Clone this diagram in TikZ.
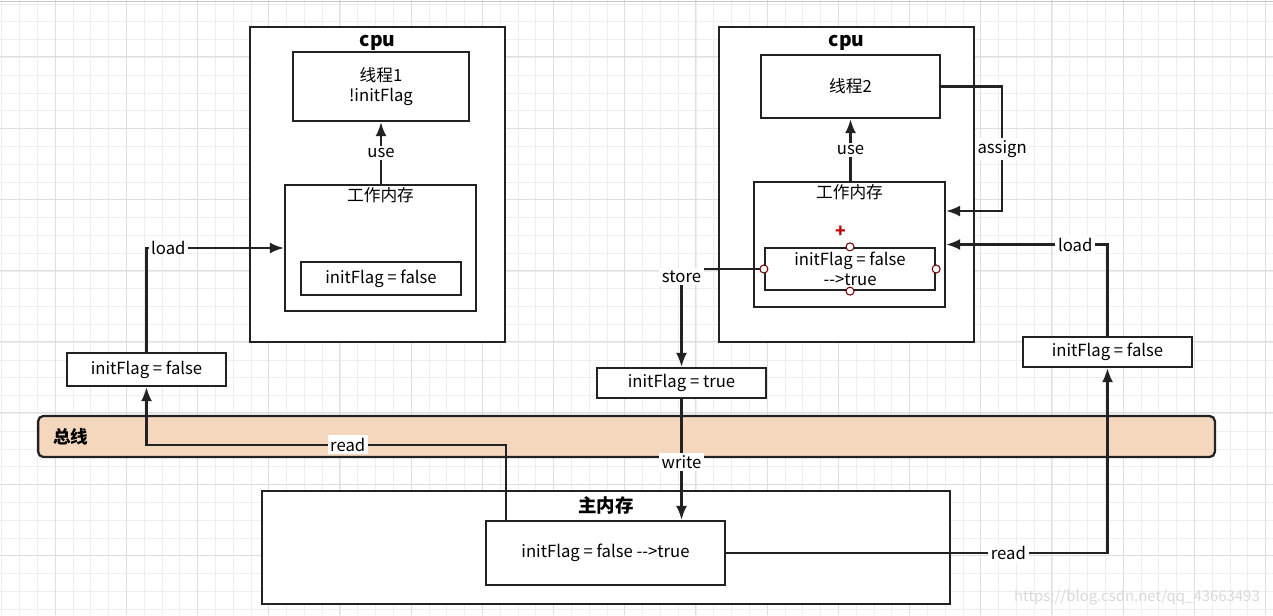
\documentclass[tikz,border=0pt]{standalone}
\usepackage{fontspec}
\setmainfont{Noto Sans CJK SC}
\usepackage{tikz}
\usetikzlibrary{arrows.meta, positioning}
\tikzset{>={Latex[width=2.2mm,length=2.8mm]}}
\definecolor{busfill}{HTML}{F5D7BE}
\definecolor{linecol}{HTML}{222222}
\definecolor{gridminor}{HTML}{EEEEEE}
\definecolor{gridmajor}{HTML}{DEDEDE}

\begin{document}
\begin{tikzpicture}[
    x = 0.02cm, y = -0.02cm,
    font = \fontsize{9.5}{11}\selectfont,
    box/.style = {draw=linecol, line width=1.3pt, inner sep=0pt, fill=white},
    title/.style = {font=\fontsize{11}{13}\selectfont\bfseries, inner sep=1pt},
    lbl/.style = {fill=white, inner sep=1.5pt},
    wire/.style = {draw=linecol, line width=1.3pt},
    handle/.style = {circle, draw=black!55!red, fill=white, line width=0.6pt,
        minimum size=0.16cm, inner sep=0pt}
  ]
  \fill[white] (0,0) rectangle (1273,615);
  \useasboundingbox (0,0) rectangle (1273,615);
  \foreach \gx in {1.7,19.5,...,1273} \draw[gridminor] (\gx,0) -- (\gx,615);
  \foreach \gy in {3.9,21.7,...,615} \draw[gridminor] (0,\gy) -- (1273,\gy);
  \foreach \gx in {55,126.2,...,1273} \draw[gridmajor] (\gx,0) -- (\gx,615);
  \foreach \gy in {56.7,127.9,...,615} \draw[gridmajor] (0,\gy) -- (1273,\gy);
  \draw[gray!45] (0,1.5) -- (1273,1.5);

  \node[box, fill=busfill, rounded corners=3pt, minimum width=23.54cm,
    minimum height=0.82cm] (bus) at (626.5,436.5) {};
  \node[font=\fontsize{10}{12}\selectfont\bfseries, right=0.2cm of bus.west] (busT) {总线};

  \node[box, minimum width=5.1cm, minimum height=6.3cm] (cpuA) at (377.5,184.5) {};
  \node[title, below=0.15cm of cpuA.north] (cpuAT) {cpu};
  \node[box, minimum width=3.52cm, minimum height=1.38cm, align=center] (thA)
    at (381,86.5) {线程1\\!initFlag};
  \node[box, minimum width=3.82cm, minimum height=2.52cm] (wmA) at (380.5,248) {};
  \node[below=0pt of wmA.north, inner sep=2pt] (wmAT) {工作内存};
  \node[box, minimum width=3.2cm, minimum height=0.66cm] (vA) at (381,278.5) {initFlag = false};
  \node[box, minimum width=3.18cm, minimum height=0.66cm] (fA) at (146.5,369.5) {initFlag = false};

  \node[box, minimum width=5.1cm, minimum height=6.3cm] (cpuB) at (846.5,184.5) {};
  \node[title, below=0.15cm of cpuB.north] (cpuBT) {cpu};
  \node[box, minimum width=3.58cm, minimum height=1.26cm] (thB) at (850.5,86.5) {线程2};
  \node[box, minimum width=3.82cm, minimum height=2.5cm] (wmB) at (849.5,244.5) {};
  \node[below=0pt of wmB.north, inner sep=2pt] (wmBT) {工作内存};
  \node[box, minimum width=3.4cm, minimum height=0.84cm, align=center] (vB)
    at (850,269) {initFlag = false\\-{}-{}>true};
  \node[box, minimum width=3.38cm, minimum height=0.6cm] (fB) at (1107.5,352) {initFlag = false};
  \node[box, minimum width=3.38cm, minimum height=0.6cm] (tB) at (681.5,383) {initFlag = true};

  \node[box, minimum width=13.76cm, minimum height=2.26cm] (mem) at (606,547.5) {};
  \node[title, font=\fontsize{10.5}{12}\selectfont\bfseries,
    below=0.1cm of mem.north] (memT) {主内存};
  \node[box, minimum width=4.78cm, minimum height=1.28cm] (mInner)
    at (605.5,553) {initFlag = false -{}-{}>true};

  \draw[wire, ->] (thA.south |- wmA.north) -- node[lbl] {use} (thA.south);
  \draw[wire, ->] (fA.north) |- node[lbl, pos=0.5, anchor=west, xshift=0.5pt] {load} (wmA.west);
  \draw[wire, ->] ([xshift=0.42cm]mInner.north west) -- ++(0,-75)
    -| node[lbl, pos=0.22] {read} (fA.south);

  \draw[wire, ->] (thB.south |- wmB.north) -- node[lbl] {use} (thB.south);
  \draw[wire, ->] (thB.east) -- ++(61,0)
    |- node[lbl, pos=0.25] {assign} ([yshift=0.67cm]wmB.east);
  \draw[wire, ->] (fB.north) |- node[lbl, pos=0.6] {load} (wmB.east);
  \draw[wire, ->] (mInner.east) -| node[lbl, pos=0.37] {read} (fB.south);
  \draw[wire, ->] (vB.west) -| node[lbl, pos=0.5, yshift=-0.15cm] {store} (tB.north);
  \draw[wire, ->] (tB.south) -- node[lbl, pos=0.52] {write} (tB.south |- mInner.north);

  \node[handle] (hN) at (vB.north) {};
  \node[handle] (hS) at (vB.south) {};
  \node[handle] (hW) at (vB.west) {};
  \node[handle] (hE) at (vB.east) {};
  \node[text=red!75!black, font=\fontsize{10}{12}\selectfont\bfseries] (plus) at (841,232) {+};

  \node[text=gray!30, font=\fontsize{8.5}{10}\selectfont, anchor=east] (wmark) at (1266,597)
    {https://blog.csdn.net/qq\_43663493};
\end{tikzpicture}
\end{document}
